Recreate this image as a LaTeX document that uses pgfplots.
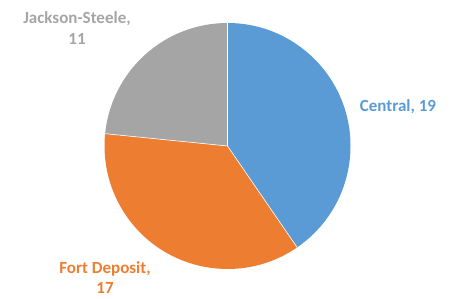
\documentclass[border=0pt]{standalone}
\usepackage{pgfplots}
\pgfplotsset{compat=1.18}
\usepackage{pgfplotstable}
\usepackage{fontspec}
\setmainfont{Carlito}
\definecolor{cblue}{HTML}{5B9BD5}
\definecolor{corange}{HTML}{ED7D31}
\definecolor{cgray}{HTML}{A5A5A5}
\pgfplotstableread{
label value
Central 19
FortDeposit 17
JacksonSteele 11
}\piedata
\pgfplotstablegetelem{0}{value}\of\piedata \let\vA\pgfplotsretval
\pgfplotstablegetelem{1}{value}\of\piedata \let\vB\pgfplotsretval
\pgfplotstablegetelem{2}{value}\of\piedata \let\vC\pgfplotsretval
\pgfmathsetmacro{\tot}{\vA+\vB+\vC}
\pgfmathsetmacro{\aA}{90}
\pgfmathsetmacro{\aB}{90-360*\vA/\tot}
\pgfmathsetmacro{\aC}{\aB-360*\vB/\tot}
\pgfmathsetmacro{\aD}{\aC-360*\vC/\tot}
\begin{document}
\begin{tikzpicture}
\begin{axis}[hide axis, x=1pt, y=1pt, xmin=0, xmax=453, ymin=0, ymax=299,
  scale only axis, clip=false]
\coordinate (bl) at (axis cs:0,0);
\coordinate (tr) at (axis cs:453,299);
\coordinate (c) at (axis cs:227.5,153);
\fill[cblue] (c) -- ++(\aA:123pt) arc[start angle=\aA, end angle=\aB, radius=123pt] -- cycle;
\fill[corange] (c) -- ++(\aB:123pt) arc[start angle=\aB, end angle=\aC, radius=123pt] -- cycle;
\fill[cgray] (c) -- ++(\aC:123pt) arc[start angle=\aC, end angle=\aD, radius=123pt] -- cycle;
\draw[white, line width=0.6pt] (c) -- ++(\aA:123pt) (c) -- ++(\aB:123pt) (c) -- ++(\aC:123pt);
\node[text=cblue, font=\bfseries\fontsize{17}{21}\selectfont] at (axis cs:398,192) {Central, \vA};
\node[text=corange, align=center, font=\bfseries\fontsize{17}{20}\selectfont] at (axis cs:105,21) {Fort Deposit,\\ \vB};
\node[text=cgray, align=center, font=\bfseries\fontsize{17}{21}\selectfont] at (axis cs:77,270.5) {Jackson-Steele,\\ \vC};
\end{axis}
\pgfresetboundingbox
\path[use as bounding box] (bl) rectangle (tr);
\end{tikzpicture}
\end{document}
